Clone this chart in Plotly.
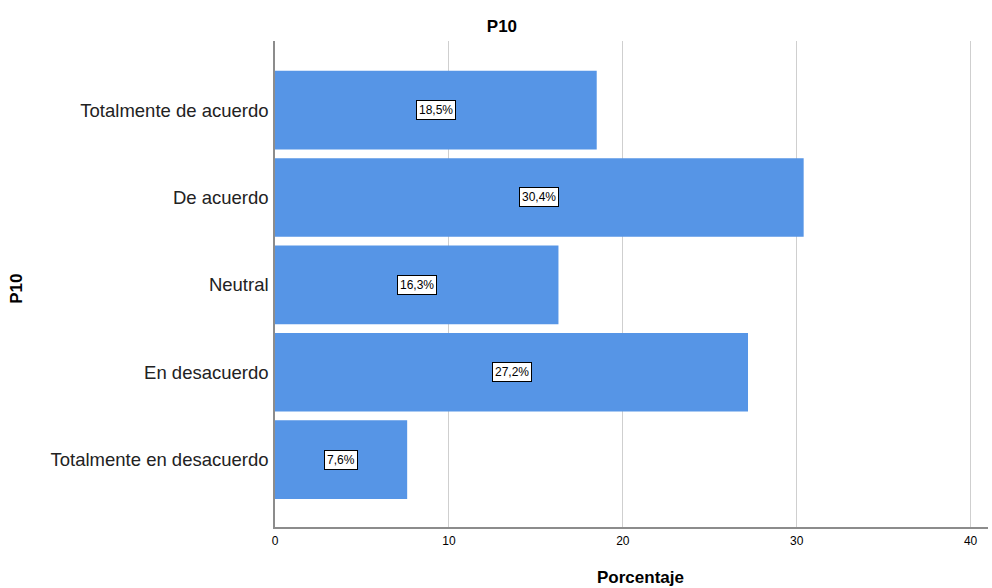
import plotly.graph_objects as go

categories = ["Totalmente de acuerdo", "De acuerdo", "Neutral", "En desacuerdo", "Totalmente en desacuerdo"]
values = [18.5, 30.4, 16.3, 27.2, 7.6]
labels = ["18,5%", "30,4%", "16,3%", "27,2%", "7,6%"]
x_ticks = [0, 10, 20, 30, 40]

FONT = "Arial, Liberation Sans, sans-serif"

fig = go.Figure()
fig.add_trace(go.Bar(
    x=values, y=categories, orientation="h",
    marker=dict(color="#5695e6", line=dict(width=0)),
    width=0.9, hoverinfo="skip",
))

for c, v, t in zip(categories, values, labels):
    fig.add_annotation(
        x=v / 2, y=c, xref="x", yref="y", text=t, showarrow=False,
        font=dict(family=FONT, size=12, color="black"),
        bgcolor="white", bordercolor="black", borderwidth=1, borderpad=2,
    )

fig.add_annotation(text="<b>Porcentaje</b>", xref="paper", yref="paper", x=0.512, y=-0.103,
                   yanchor="middle", showarrow=False,
                   font=dict(family=FONT, size=17, color="black"))
fig.add_annotation(text="<b>P10</b>", xref="paper", yref="paper", x=-0.362, xanchor="center",
                   y=0.49, yanchor="middle", textangle=-90, showarrow=False,
                   font=dict(family=FONT, size=17, color="black"))

fig.update_layout(
    width=992, height=588,
    margin=dict(l=275, r=4, t=41, b=61),
    paper_bgcolor="white", plot_bgcolor="white",
    showlegend=False,
    title=dict(text="<b>P10</b>", x=0.506, xanchor="center", y=0.955, yanchor="middle",
               font=dict(family=FONT, size=17, color="black")),
    xaxis=dict(
        range=[0, 41], tickvals=x_ticks, ticktext=[str(t) for t in x_ticks],
        showgrid=True, gridcolor="#cfcfcf", gridwidth=1, zeroline=False,
        showline=True, linecolor="#8c8c8c", linewidth=1.5,
        ticks="", ticklabelstandoff=2, tickfont=dict(family=FONT, size=12, color="black"),
        fixedrange=True,
    ),
    yaxis=dict(
        categoryorder="array", categoryarray=categories,
        range=[4.77, -0.79], showgrid=False, zeroline=False,
        showline=True, linecolor="#8c8c8c", linewidth=1.5,
        ticks="", ticklabelstandoff=1,
        tickfont=dict(family=FONT, size=18.5, color="#222222"),
        fixedrange=True,
    ),
)

fig.write_html("out.html", config={"displayModeBar": False},
               post_script="document.body.style.margin='0';document.body.style.padding='0';document.body.style.overflow='hidden';")
